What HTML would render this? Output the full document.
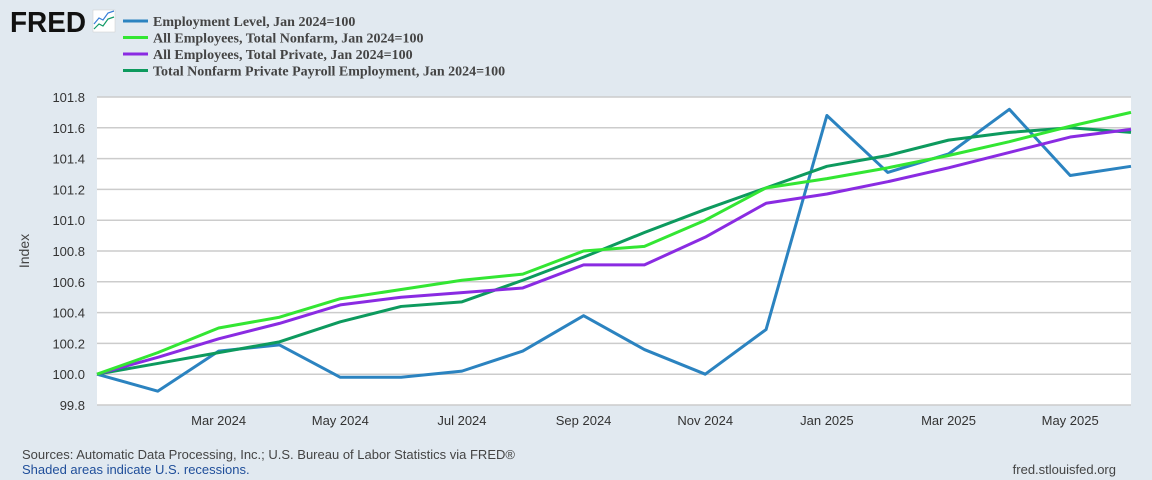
<!DOCTYPE html>
<html><head><meta charset="utf-8">
<style>
body{margin:0;width:1152px;height:480px;background:#e1e9f0;overflow:hidden;font-family:"Liberation Sans",sans-serif;}
svg{display:block}
</style></head>
<body>
<svg id="c" width="1152" height="480">
  <text x="10" y="32" font-family="Liberation Sans" font-weight="bold" font-size="29" textLength="76" lengthAdjust="spacingAndGlyphs" fill="#111">FRED</text>
  <g>
    <rect x="93" y="10" width="22" height="22" fill="#fff" stroke="#ccc" stroke-width="0.5"/>
    <polyline points="94,24 99,18 103,20 108,13 114,11" fill="none" stroke="#3a7fd8" stroke-width="1.2"/>
    <polyline points="94,29 99,24 103,26 108,19 114,17" fill="none" stroke="#119a67" stroke-width="1.2"/>
  </g>
  <g id="legend"></g>
  <rect x="97" y="97" width="1034" height="308" fill="#fff"/>
  <g id="grid"></g>
  <g id="lines"></g>
  <g id="ticks"></g>
  <text transform="translate(29,251) rotate(-90)" text-anchor="middle" font-size="14" fill="#444">Index</text>
  <text x="22" y="459" font-size="13" fill="#444">Sources: Automatic Data Processing, Inc.; U.S. Bureau of Labor Statistics via FRED®</text>
  <text x="22" y="474" font-size="13" fill="#1f4e9a">Shaded areas indicate U.S. recessions.</text>
  <text x="1116" y="474" text-anchor="end" font-size="13" fill="#444">fred.stlouisfed.org</text>
</svg>
<script>
const months = ["Jan 2024","Feb 2024","Mar 2024","Apr 2024","May 2024","Jun 2024","Jul 2024","Aug 2024","Sep 2024","Oct 2024","Nov 2024","Dec 2024","Jan 2025","Feb 2025","Mar 2025","Apr 2025","May 2025","Jun 2025"];
const xTickLabels = ["Mar 2024","May 2024","Jul 2024","Sep 2024","Nov 2024","Jan 2025","Mar 2025","May 2025"];
const yTicks = [99.8,100.0,100.2,100.4,100.6,100.8,101.0,101.2,101.4,101.6,101.8];
const employmentLevel = [100,99.89,100.15,100.19,99.98,99.98,100.02,100.15,100.38,100.16,100.0,100.29,101.68,101.31,101.43,101.72,101.29,101.35];
const totalNonfarm = [100,100.14,100.30,100.37,100.49,100.55,100.61,100.65,100.80,100.83,101.00,101.21,101.27,101.34,101.42,101.51,101.61,101.70];
const totalPrivate = [100,100.11,100.23,100.33,100.45,100.50,100.53,100.56,100.71,100.71,100.89,101.11,101.17,101.25,101.34,101.44,101.54,101.59];
const adpPayroll = [100,100.07,100.14,100.21,100.34,100.44,100.47,100.61,100.76,100.92,101.07,101.21,101.35,101.42,101.52,101.57,101.60,101.57];
const seriesNames = ["Employment Level, Jan 2024=100","All Employees, Total Nonfarm, Jan 2024=100","All Employees, Total Private, Jan 2024=100","Total Nonfarm Private Payroll Employment, Jan 2024=100"];

const NS="http://www.w3.org/2000/svg";
const X0=97,X1=1131,Y0=405,Y1=97,YMIN=99.8,YMAX=101.8;
const x=i=>X0+(X1-X0)*i/(months.length-1);
const y=v=>Y0-(v-YMIN)/(YMAX-YMIN)*(Y0-Y1);
function mk(tag,attrs,parent){const e=document.createElementNS(NS,tag);for(const k in attrs)e.setAttribute(k,attrs[k]);parent.appendChild(e);return e;}
const grid=document.getElementById('grid'),ticks=document.getElementById('ticks'),lines=document.getElementById('lines'),legend=document.getElementById('legend');
yTicks.forEach(v=>{
  const l=mk('line',{x1:X0,x2:X1,y1:y(v),y2:y(v),stroke:'#cccccc','stroke-width':1.5},grid);
  
  
  const t=mk('text',{x:85,y:y(v)+5,'text-anchor':'end','font-size':13,fill:'#333'},ticks);
  t.textContent=v.toFixed(1);
  
  
});
xTickLabels.forEach(lbl=>{
  const i=months.indexOf(lbl);
  const t=mk('text',{x:x(i),y:425,'text-anchor':'middle','font-size':13,fill:'#333'},ticks);
  t.textContent=lbl;
  
  
});
const series=[employmentLevel,totalNonfarm,totalPrivate,adpPayroll];
const colors=["#2b83c0","#33e633","#8a2be2","#0d9a5e"];
const snames=["employment-level-line","total-nonfarm-line","total-private-line","adp-payroll-line"];
const order=[0,3,2,1];
order.forEach(k=>{
  const p=mk('polyline',{points:series[k].map((v,i)=>x(i)+','+y(v)).join(' '),fill:'none',stroke:colors[k],'stroke-width':3,'stroke-linejoin':'round'},lines);
  
  
});
seriesNames.forEach((n,k)=>{
  const g=mk('g',{},legend);
  
  
  const yy=22+k*16.5;
  mk('line',{x1:123,x2:148,y1:yy-1,y2:yy-1,stroke:colors[k],'stroke-width':3},g);
  const t=mk('text',{x:153,y:yy+4,'font-family':'Liberation Serif','font-weight':'bold','font-size':14,fill:'#444'},g);
  t.textContent=n;
});
</script>
</body></html>
